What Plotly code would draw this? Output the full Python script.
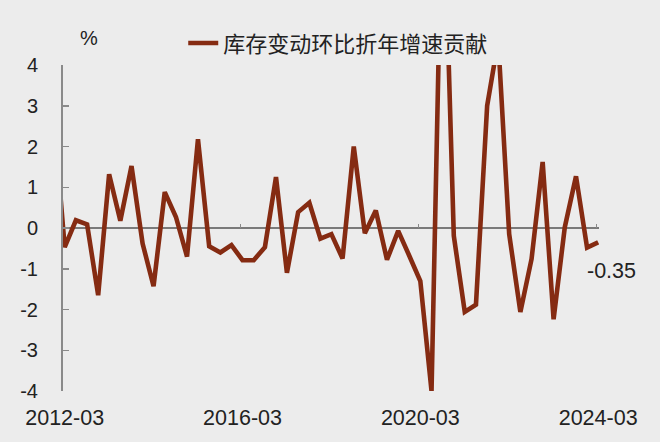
import plotly.graph_objects as go
import pandas as pd

# quarterly categories (2011Q4 .. 2024Q1)
quarters = [f"{p.year}-{p.quarter * 3:02d}" for p in pd.period_range("2011Q4", "2024Q1", freq="Q")]

series_name = "库存变动环比折年增速贡献"
values = [
    2.8,                                  # 2011-12
    -0.47, 0.19, 0.09, -1.65,             # 2012
    1.32, 0.18, 1.52, -0.38,              # 2013
    -1.43, 0.88, 0.27, -0.70,             # 2014
    2.18, -0.45, -0.60, -0.42,            # 2015
    -0.79, -0.79, -0.47, 1.25,            # 2016
    -1.10, 0.39, 0.62, -0.26,             # 2017
    -0.15, -0.75, 2.00, -0.13,            # 2018
    0.43, -0.78, -0.07, -0.68,            # 2019
    -1.30, -4.00, 9.00, -0.19,            # 2020
    -2.06, -1.88, 3.00, 4.60,             # 2021
    -0.15, -2.06, -0.76, 1.62,            # 2022
    -2.24, 0.02, 1.27, -0.48,             # 2023
    -0.35,                                # 2024-03
]

tick_labels = ["2012-03", "2016-03", "2020-03", "2024-03"]
y_ticks = [-4, -3, -2, -1, 0, 1, 2, 3, 4]
unit_label = "%"

x_dates = [q + "-15" for q in quarters]

LINE_COLOR = "#852B12"
BG = "#ECECEC"
AXIS = "#8A8A8A"
TXT = "#222222"
FONT = "Liberation Sans, Arial, Noto Sans CJK SC, sans-serif"

fig = go.Figure()
fig.add_trace(go.Scatter(
    x=x_dates, y=values, mode="lines", name=series_name,
    line=dict(color=LINE_COLOR, width=4.6),
    hoverinfo="skip",
))
# empty trace that only registers the zero-line tick axis
fig.add_trace(go.Scatter(x=[], y=[], xaxis="x2", yaxis="y", showlegend=False, hoverinfo="skip"))

fig.add_annotation(
    x=x_dates[-1], y=values[-1], xref="x", yref="y",
    text=f"{values[-1]:.2f}", showarrow=False,
    xanchor="center", yanchor="middle",
    xshift=13, yshift=-29,
    font=dict(size=21.5, color=TXT, family=FONT),
)
fig.add_annotation(
    x=0.048, y=1.083, xref="paper", yref="paper",
    text=unit_label, showarrow=False,
    xanchor="center", yanchor="middle",
    font=dict(size=20, color=TXT, family=FONT),
)

fig.update_layout(
    width=660, height=442, autosize=False,
    margin=dict(l=63, r=61, t=65, b=51, pad=0, autoexpand=False),
    paper_bgcolor=BG, plot_bgcolor=BG,
    font=dict(family=FONT, color=TXT, size=20),
    showlegend=True,
    hovermode=False,
    legend=dict(
        orientation="h", x=0.5135, xanchor="center", y=1.067, yanchor="middle",
        font=dict(size=22, color=TXT, family=FONT), bgcolor="rgba(0,0,0,0)",
        itemwidth=30,
    ),
    xaxis=dict(
        type="date", range=["2012-03-01", "2024-03-22"],
        tickvals=[t + "-15" for t in tick_labels], ticktext=tick_labels,
        ticks="", showline=False, showgrid=False, zeroline=False,
        tickfont=dict(size=21.5, color=TXT), ticklabelstandoff=11,
    ),
    xaxis2=dict(
        type="date", overlaying="x", matches="x", anchor="free", position=0.5,
        side="bottom", tickvals=[t + "-01" for t in tick_labels],
        ticks="inside", ticklen=4, tickcolor=AXIS, tickwidth=1.2,
        showticklabels=False, showline=False, showgrid=False, zeroline=False,
    ),
    yaxis=dict(
        range=[-4, 4], tickvals=y_ticks, ticktext=[str(v) for v in y_ticks],
        ticks="inside", ticklen=6, tickcolor=AXIS, tickwidth=1.5,
        showline=True, linecolor=AXIS, linewidth=2,
        showgrid=False, zeroline=True, zerolinecolor="#7A7A7A", zerolinewidth=1.2,
        tickfont=dict(size=20, color=TXT), ticklabelstandoff=19,
    ),
)

fig.write_html(
    "out.html",
    config={"displayModeBar": False, "staticPlot": True},
    post_script="document.body.style.margin='0';document.body.style.background='" + BG + "';",
)
